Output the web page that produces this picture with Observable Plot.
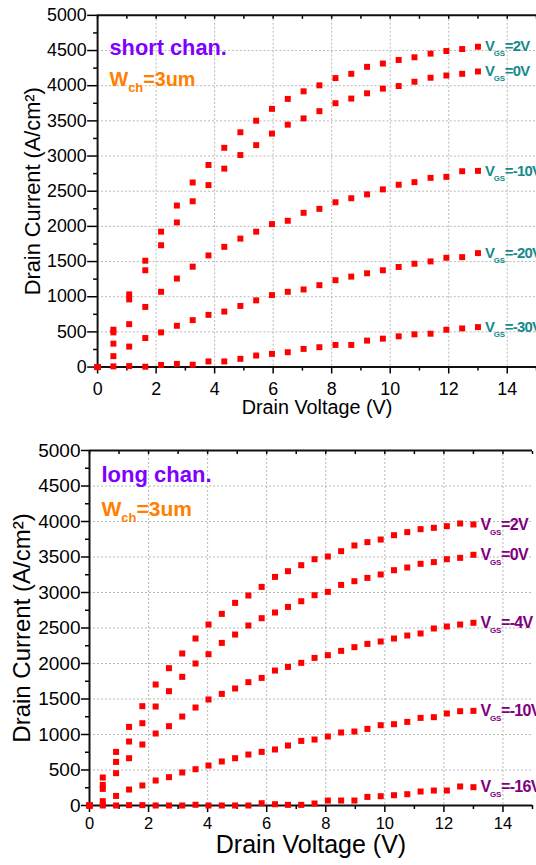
<!DOCTYPE html>
<html>
<head>
<meta charset="utf-8">
<script src="https://cdn.jsdelivr.net/npm/d3@7"></script>
<script src="https://cdn.jsdelivr.net/npm/@observablehq/plot@0.6"></script>
<style>
  html, body { margin: 0; padding: 0; background: #fff; overflow: hidden; }
  svg { display: block; }
</style>
</head>
<body>
<div id="chart"></div>
<script>
// ---------- data ----------
const xMajor = [0, 2, 4, 6, 8, 10, 12, 14];
const xMinor = [1, 3, 5, 7, 9, 11, 13, 15];
const xAll = [0, 1, 2, 3, 4, 5, 6, 7, 8, 9, 10, 11, 12, 13, 14, 15];
const yMajor = [0, 500, 1000, 1500, 2000, 2500, 3000, 3500, 4000, 4500, 5000];
const yMinor = [250, 750, 1250, 1750, 2250, 2750, 3250, 3750, 4250, 4750];

// short channel panel
const vdTop = [0, 0.54, 1.08, 1.63, 2.17, 2.71, 3.25, 3.79, 4.33, 4.88, 5.42, 5.96, 6.5,
  7.04, 7.58, 8.13, 8.67, 9.21, 9.75, 10.29, 10.83, 11.38, 11.92, 12.46, 13.0];
const gsTop = ["2V", "0V", "-10V", "-20V", "-30V"];
const idTop2V = [0, 531, 1033, 1512, 1925, 2296, 2624, 2873, 3117, 3338, 3502, 3671, 3812,
  3920, 4005, 4108, 4169, 4268, 4315, 4366, 4404, 4456, 4493, 4521, 4554];
const idTop0V = [0, 493, 962, 1376, 1732, 2056, 2357, 2587, 2821, 3014, 3155, 3319, 3446,
  3535, 3638, 3751, 3817, 3892, 3958, 3995, 4056, 4113, 4145, 4169, 4202];
const idTopM10V = [0, 333, 610, 855, 1070, 1258, 1427, 1587, 1709, 1826, 1925, 2032, 2080,
  2193, 2249, 2343, 2400, 2455, 2526, 2592, 2629, 2690, 2704, 2784, 2789];
const idTopM20V = [0, 155, 291, 413, 493, 587, 667, 742, 789, 869, 948, 1023, 1070,
  1103, 1164, 1235, 1286, 1333, 1376, 1423, 1469, 1502, 1554, 1563, 1620];
const idTopM30V = [0, 10, 14, 5, 30, 45, 33, 80, 80, 117, 164, 188, 211,
  258, 282, 315, 315, 376, 404, 437, 465, 474, 531, 549, 568];

// long channel panel
const vdBot = [0, 0.45, 0.90, 1.34, 1.79, 2.24, 2.69, 3.14, 3.59, 4.03, 4.48, 4.93, 5.38, 5.83,
  6.28, 6.72, 7.17, 7.62, 8.07, 8.52, 8.97, 9.41, 9.86, 10.31, 10.76, 11.21, 11.66, 12.10, 12.55, 13.0];
const gsBot = ["2V", "0V", "-4V", "-10V", "-16V"];
const idBot2V = [0, 394, 755, 1107, 1399, 1704, 1934, 2141, 2352, 2549, 2699, 2854, 2958, 3079,
  3220, 3300, 3385, 3469, 3507, 3582, 3662, 3709, 3746, 3807, 3850, 3892, 3911, 3934, 3972, 3958];
const idBot0V = [0, 290, 614, 901, 1159, 1394, 1610, 1812, 2000, 2131, 2290, 2408, 2535, 2638,
  2718, 2797, 2877, 2962, 3009, 3107, 3159, 3206, 3254, 3314, 3352, 3404, 3428, 3469, 3488, 3531];
const idBotM4V = [0, 234, 455, 666, 859, 1014, 1117, 1253, 1380, 1493, 1572, 1648, 1737, 1797,
  1901, 1952, 2009, 2079, 2117, 2178, 2230, 2276, 2310, 2352, 2394, 2423, 2493, 2521, 2549, 2573];
const idBotM10V = [0, 61, 135, 225, 282, 352, 399, 465, 511, 563, 620, 666, 718, 755,
  789, 845, 910, 929, 972, 1028, 1042, 1079, 1131, 1145, 1178, 1234, 1244, 1296, 1328, 1333];
const idBotM16V = [0, 0, 0, 5, 5, 0, 0, 0, 10, 0, 0, 0, 0, 32,
  18, 9, 9, 28, 70, 70, 70, 121, 131, 145, 159, 197, 211, 211, 268, 258];

const xTitle = "Drain Voltage (V)";
const yTitle = "Drain Current (A/cm²)";
const chanTop = "short chan.";
const chanBot = "long chan.";
const widthNote = "W_ch=3um";

// ---------- helpers ----------
function rows(vd, gsList, series) {
  return series.flatMap((ids, k) => ids.map((id, i) => ({vd: vd[i], id, gs: gsList[k]})));
}
function lastRows(vd, gsList, series) {
  return series.map((ids, k) => ({vd: vd[ids.length - 1], id: ids[ids.length - 1], gs: gsList[k]}));
}
// turn "A_bc=rest" text into A with subscript bc followed by =rest
function richText(svg, prefix, o) {
  const ns = "http://www.w3.org/2000/svg";
  svg.querySelectorAll("text").forEach(t => {
    const s = t.textContent;
    if (!s.startsWith(prefix)) return;
    const i = s.indexOf("_"), j = s.indexOf("=");
    t.textContent = "";
    const a = document.createElementNS(ns, "tspan"); a.textContent = s.slice(0, i);
    const b = document.createElementNS(ns, "tspan"); b.textContent = s.slice(i + 1, j);
    b.setAttribute("font-size", o.subSize); b.setAttribute("dy", o.shift);
    if (o.subDx) b.setAttribute("dx", o.subDx);
    if (o.subSpacing) b.setAttribute("letter-spacing", o.subSpacing);
    const c = document.createElementNS(ns, "tspan"); c.textContent = s.slice(j);
    c.setAttribute("dy", -o.shift);
    if (o.restSpacing) c.setAttribute("letter-spacing", o.restSpacing);
    t.append(a, b, c);
  });
}
const fmt = d => String(d);
const regular = "'Liberation Sans', Arial, sans-serif";

function panel(cfg) {
  const data = rows(cfg.vd, cfg.gs, cfg.series);
  const ends = lastRows(cfg.vd, cfg.gs, cfg.series);
  const svg = Plot.plot({
    width: cfg.width,
    height: cfg.height,
    marginTop: cfg.mt,
    marginBottom: cfg.mb,
    marginLeft: cfg.ml,
    marginRight: 0,
    style: {fontFamily: regular, color: "#000", background: "#fff", overflow: "visible"},
    x: {domain: [0, 15], axis: null},
    y: {domain: [0, 5000], axis: null},
    marks: [
      Plot.gridX({ticks: xMajor, stroke: "#b8b8b8", strokeOpacity: 1, strokeDasharray: "2,2"}),
      Plot.gridY({ticks: yMajor, stroke: "#b8b8b8", strokeOpacity: 1, strokeDasharray: "2,2"}),
      Plot.axisX({anchor: "bottom", ticks: xMajor, tickSize: 7, tickPadding: cfg.xPad, tickFormat: fmt, fontSize: cfg.xFont, label: null, strokeWidth: 1.5}),
      Plot.axisX({anchor: "bottom", ticks: xMinor, tickSize: 4, tickFormat: () => "", label: null, strokeWidth: 1.5}),
      Plot.axisX({anchor: "top", ticks: xAll, tickSize: -3, tickFormat: () => "", label: null, strokeWidth: 1.5}),
      Plot.axisY({anchor: "left", ticks: yMajor, tickSize: cfg.yTick, tickPadding: 1, tickFormat: fmt, fontSize: cfg.yFont, label: null, strokeWidth: 1.5}),
      Plot.axisY({anchor: "left", ticks: yMinor, tickSize: 4, tickFormat: () => "", label: null, strokeWidth: 1.5}),
      Plot.ruleY([0, 5000], {stroke: "#111", strokeWidth: 2}),
      Plot.ruleX([0], {stroke: "#111", strokeWidth: 2}),
      Plot.dot(data, {x: "vd", y: "id", symbol: "square", r: 3.4, fill: "#ff0000"}),
      Plot.text(ends, {x: "vd", y: "id", text: d => "V_GS=" + d.gs, dx: cfg.labDx, textAnchor: "start", lineAnchor: "middle",
        fontSize: cfg.labFont, fontWeight: "bold", fill: cfg.labColor}),
      Plot.text([cfg.chan], {text: d => d, frameAnchor: "top-left", dx: 12, dy: cfg.chanDy, textAnchor: "start", lineAnchor: "middle",
        fontSize: 22, fontWeight: "bold", fill: "#8000ff"}),
      Plot.text([widthNote], {text: d => d, frameAnchor: "top-left", dx: 12, dy: cfg.wDy, textAnchor: "start", lineAnchor: "middle",
        fontSize: cfg.wFont, fontWeight: "bold", fill: "#ff8000"}),
      Plot.text([xTitle], {text: d => d, frameAnchor: "bottom", textAnchor: "middle", lineAnchor: "top", dy: cfg.xtDy, fontSize: cfg.xtFont}),
      Plot.text([yTitle], {text: d => d, frameAnchor: "left", textAnchor: "middle", lineAnchor: "middle", rotate: -90, dx: cfg.ytDx, fontSize: cfg.ytFont})
    ]
  });
  richText(svg, "V_GS", {subSize: 8, shift: 5, subDx: -1, subSpacing: -0.3, restSpacing: -0.7});
  richText(svg, "W_ch", {subSize: 13, shift: 6});
  return svg;
}

const topPanel = panel({
  vd: vdTop, gs: gsTop, series: [idTop2V, idTop0V, idTopM10V, idTopM20V, idTopM30V],
  width: 541, height: 430, mt: 15, mb: 60, ml: 98,
  xPad: 8, xFont: 18, yTick: 10, yFont: 18,
  labDx: 7, labFont: 15, labColor: "#148a8a",
  chan: chanTop, chanDy: 33, wDy: 64.5, wFont: 20,
  xtDy: 33, xtFont: 20, ytDx: -65, ytFont: 22
});
const botPanel = panel({
  vd: vdBot, gs: gsBot, series: [idBot2V, idBot0V, idBotM4V, idBotM10V, idBotM16V],
  width: 532, height: 435, mt: 24, mb: 56, ml: 89,
  xPad: 5, xFont: 16.5, yTick: 8, yFont: 19,
  labDx: 7, labFont: 16, labColor: "#800080",
  chan: chanBot, chanDy: 24, wDy: 59, wFont: 21,
  xtDy: 29.5, xtFont: 25, ytDx: -67, ytFont: 24
});
document.getElementById("chart").append(topPanel, botPanel);
</script>
</body>
</html>
